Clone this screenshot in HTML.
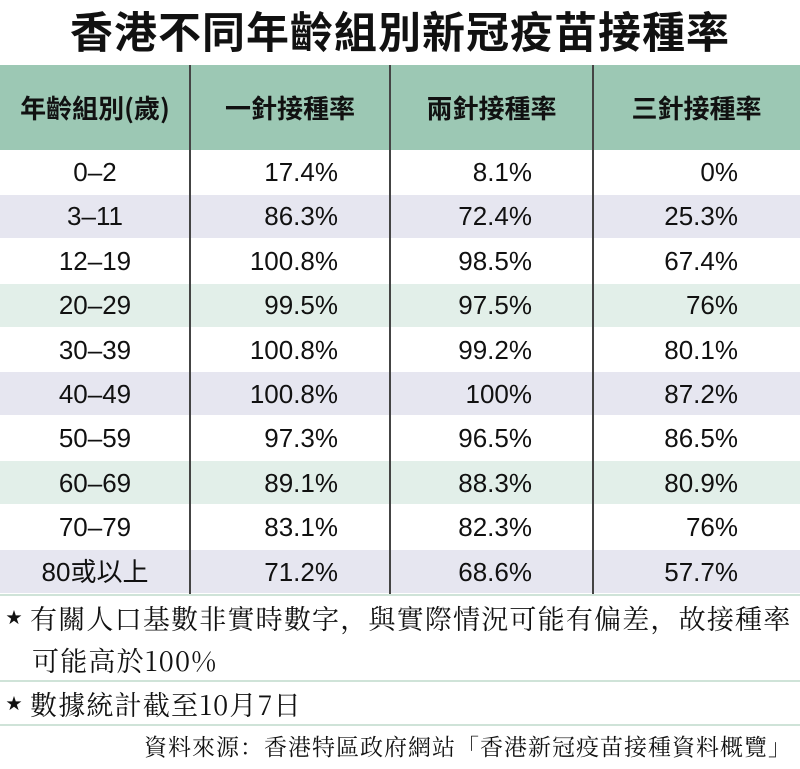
<!DOCTYPE html>
<html><head><meta charset="utf-8"><style>
body{margin:0;width:800px;height:769px;background:#fff;position:relative;overflow:hidden;font-family:"Liberation Sans","Noto Sans CJK TC",sans-serif;color:#111}
.a{position:absolute}
.title{left:0;width:800px;top:4px;text-align:center;font-size:43px;font-weight:bold;line-height:52px;font-family:"Noto Sans CJK TC",sans-serif;letter-spacing:1px}
.hdr{left:0;top:65px;width:800px;height:85px;background:#9cc8b4}
.h{top:65px;height:85px;line-height:85px;font-size:26px;font-weight:bold;text-align:center;font-family:"Noto Sans CJK TC",sans-serif}
.row{left:0;width:800px;height:43px}
.c{font-size:26px;line-height:44px;height:44px}
.vl{top:65px;width:2px;height:529px;background:#444}
.hl{left:0;width:800px;height:2px;background:#cfe3d8}
.n{font-size:27px;font-family:"Noto Serif CJK SC","Noto Sans CJK TC",serif;left:6px;letter-spacing:1.2px;white-space:nowrap}
.s{font-size:16px;vertical-align:6px;letter-spacing:8px}
</style></head><body>
<div class="a title">香港不同年齡組別新冠疫苗接種率</div>
<div class="a hdr"></div>
<div class="a row" style="top:195px;background:#e6e6f0"></div>
<div class="a row" style="top:284px;background:#e2efe9"></div>
<div class="a row" style="top:372px;background:#e6e6f0"></div>
<div class="a row" style="top:461px;background:#e2efe9"></div>
<div class="a row" style="top:550px;background:#e6e6f0"></div>
<div class="a vl" style="left:189px"></div>
<div class="a vl" style="left:389px"></div>
<div class="a vl" style="left:592px"></div>
<div class="a h" style="left:0;width:190px">年齡組別(歲)</div>
<div class="a h" style="left:190px;width:200px">一針接種率</div>
<div class="a h" style="left:390px;width:203px">兩針接種率</div>
<div class="a h" style="left:593px;width:207px">三針接種率</div>
<div id="t"></div>
<script>
var d=[["0–2","17.4%","8.1%","0%"],["3–11","86.3%","72.4%","25.3%"],["12–19","100.8%","98.5%","67.4%"],["20–29","99.5%","97.5%","76%"],["30–39","100.8%","99.2%","80.1%"],["40–49","100.8%","100%","87.2%"],["50–59","97.3%","96.5%","86.5%"],["60–69","89.1%","88.3%","80.9%"],["70–79","83.1%","82.3%","76%"],["80或以上","71.2%","68.6%","57.7%"]];
var h="";for(var i=0;i<10;i++){var y=150+i*44.4;
h+='<div class="a c" style="top:'+y+'px;left:0;width:190px;text-align:center">'+d[i][0]+'</div>';
h+='<div class="a c" style="top:'+y+'px;left:190px;width:148px;text-align:right">'+d[i][1]+'</div>';
h+='<div class="a c" style="top:'+y+'px;left:390px;width:142px;text-align:right">'+d[i][2]+'</div>';
h+='<div class="a c" style="top:'+y+'px;left:593px;width:145px;text-align:right">'+d[i][3]+'</div>';}
document.getElementById("t").innerHTML=h;
</script>
<div class="a hl" style="top:594px"></div>
<div class="a n" style="top:594px;line-height:46px"><span class="s">★</span>有關人口基數非實時數字，與實際情況可能有偏差，故接種率</div>
<div class="a n" style="top:638px;line-height:44px;left:32px">可能高於100%</div>
<div class="a hl" style="top:680px"></div>
<div class="a n" style="top:682px;line-height:42px"><span class="s">★</span>數據統計截至10月7日</div>
<div class="a hl" style="top:724px"></div>
<div class="a n" style="top:726px;line-height:40px;left:auto;right:8px;font-size:23px;letter-spacing:1px">資料來源：香港特區政府網站「香港新冠疫苗接種資料概覽」</div>
</body></html>
